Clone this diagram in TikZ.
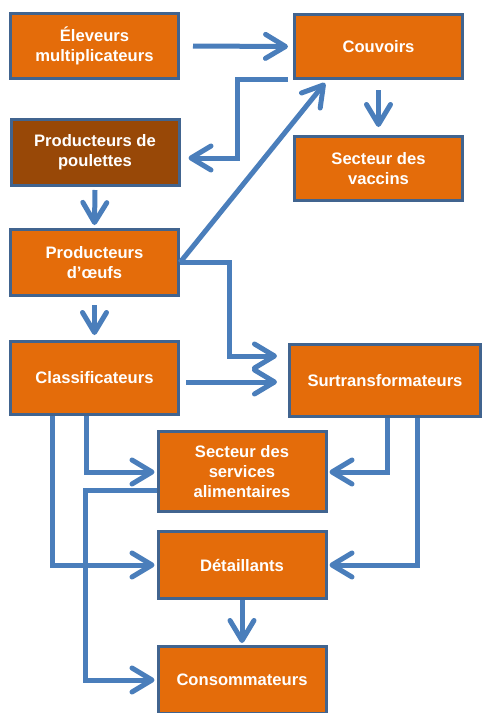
\documentclass[tikz,border=0pt]{standalone}
\usepackage{fontspec}
\setmainfont{Liberation Sans}
\usetikzlibrary{arrows.meta}
\definecolor{boxorange}{HTML}{E46C0A}
\definecolor{boxbrown}{HTML}{984807}
\definecolor{boxline}{HTML}{41648F}
\definecolor{flowblue}{HTML}{4A7EBB}
\begin{document}
\begin{tikzpicture}[x=0.5pt,y=-0.5pt,
	box/.style={draw=boxline,line width=1.5pt,fill=boxorange,text=white,
		font=\bfseries\fontsize{8.3}{9.8}\selectfont,align=center,
		minimum width=84pt,inner sep=0pt},
	flow/.style={draw=flowblue,line width=2.5pt,
		-{Straight Barb[length=10pt,width=12pt,round]}}]
		\useasboundingbox (0,0) rectangle (484,713);
		% boxes
		\node[box,minimum height=32.5pt] (eleveurs) at (94.5,46) {Éleveurs\\multiplicateurs};
		\node[box,minimum height=32pt] (couvoirs) at (378.5,46.5) {Couvoirs};
		\node[box,fill=boxbrown,minimum height=33pt] (poulettes) at (95,152.5) {Producteurs de\\poulettes};
		\node[box,minimum height=32pt] (vaccins) at (378.5,168.5) {Secteur des\\vaccins};
		\node[box,minimum height=33pt] (oeufs) at (94.5,262.5) {Producteurs\\d’œufs};
		\node[box,minimum height=36.5pt] (classif) at (94.5,378) {Classificateurs};
		\node[box,minimum width=95.5pt,minimum height=36pt] (surtrans) at (385,380.5) {Surtransformateurs};
		\node[box,minimum height=40pt] (services) at (242,471.5) {Secteur des\\services\\alimentaires};
		\node[box,minimum height=33.5pt] (detail) at (242,565) {Détaillants};
		\node[box,minimum height=33.5pt] (conso) at (242,680) {Consommateurs};
		% flows
		\draw[flow]([xshift=6.5pt]eleveurs.east)--([xshift=-2.5pt]couvoirs.west);
		\draw[flow]([shift={(-5,-1)}]couvoirs.south west)--++(-51,0)|-([shift={(8,5.5)}]poulettes.east);
		\draw[flow]([yshift=-5pt]couvoirs.south)--([yshift=4pt]vaccins.north);
		\draw[flow]([yshift=-1.5pt]poulettes.south)--([yshift=1.5pt]oeufs.north);
		\draw[flow](oeufs.east)--([shift={(32,3)}]couvoirs.south west);
		\draw[flow](oeufs.east)--++(49,0)|-([shift={(-11,-24.5)}]surtrans.west);
		\draw[flow]([shift={(6,4)}]classif.east)--([shift={(-11,1.5)}]surtrans.west);
		\draw[flow]([yshift=-4pt]oeufs.south)--([yshift=2.5pt]classif.north);
		\draw[flow]([xshift=-4.25pt]classif.south)|-([shift={(-2,0.5)}]services.west);
		\draw[flow]([xshift=-21.25pt]classif.south)|-([xshift=-1pt]detail.west);
		\draw[flow]([shift={(0,18.5)}]services.west)--++(-71,0)|-([xshift=-1pt]conso.west);
		\draw[flow]([xshift=1pt]surtrans.south)|-([shift={(2,0.5)}]services.east);
		\draw[flow]([xshift=16pt]surtrans.south)|-([xshift=1pt]detail.east);
		\draw[flow](detail.south)--([yshift=1pt]conso.north);
\end{tikzpicture}
\end{document}
